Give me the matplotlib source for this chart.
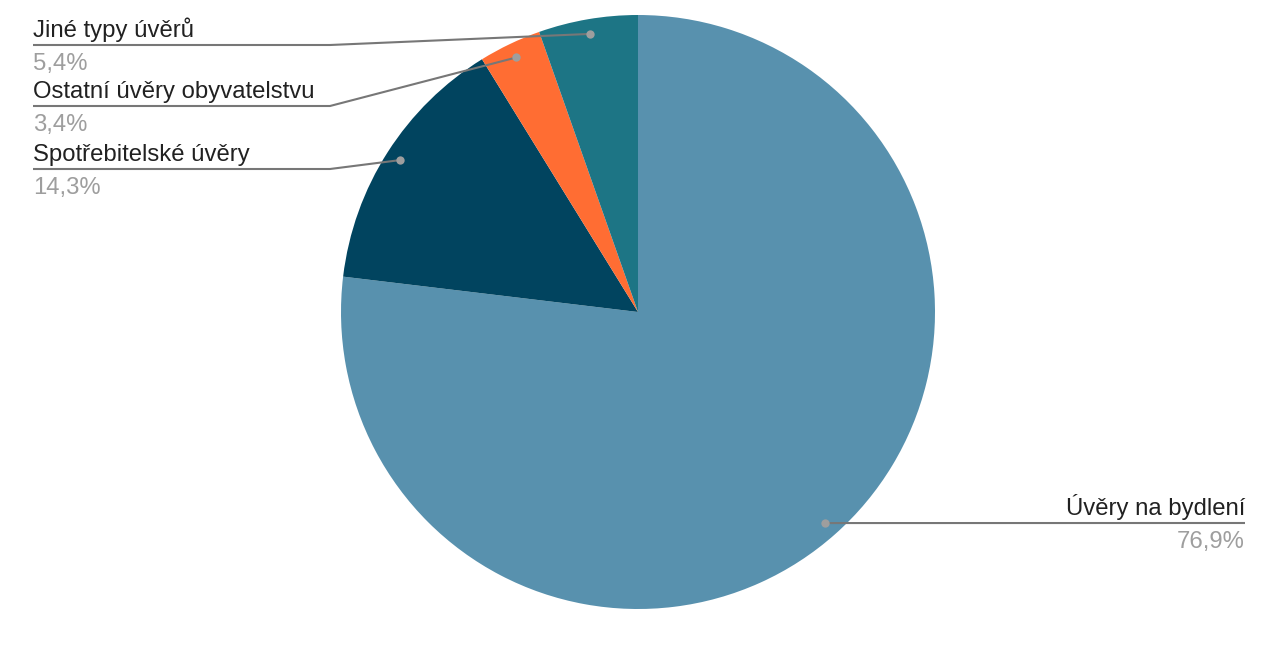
import numpy as np
import matplotlib.pyplot as plt

# data (clockwise from 12 o'clock)
labels = ["Úvěry na bydlení", "Spotřebitelské úvěry", "Ostatní úvěry obyvatelstvu", "Jiné typy úvěrů"]
values = [76.9, 14.3, 3.4, 5.4]
colors = ["#5891AE", "#01445F", "#FF6D33", "#1D7585"]

plt.rcParams["font.family"] = ["Liberation Sans", "DejaVu Sans"]

W, H = 1282, 647
fig = plt.figure(figsize=(W / 100, H / 100), dpi=100)
ax = fig.add_axes([0, 0, 1, 1])

cx, cy, r = 638, H - 312, 297
ax.pie(values, colors=colors, startangle=90, counterclock=False,
       center=(cx, cy), radius=r, frame=True,
       wedgeprops=dict(linewidth=0))
ax.set_xlim(0, W)
ax.set_ylim(0, H)
ax.set_aspect("equal")
ax.axis("off")

# label layout: (elbow x, line y in pixels, line end x, side)
layout = [
    (None, 523, 1245, "right"),
    (330, 169, 33, "left"),
    (330, 106, 33, "left"),
    (330, 45, 33, "left"),
]

total = sum(values)
start = 90.0
line_c = "#777777"
dot_c = "#9E9E9E"
fs = 17.2
for lab, v, (ex, ly, endx, side) in zip(labels, values, layout):
    mid = np.deg2rad(start - v / total * 360 / 2)
    start -= v / total * 360
    px, py = cx + 0.95 * r * np.cos(mid), cy + 0.95 * r * np.sin(mid)
    y = H - ly
    if ex is None:
        xs, ys = [px, endx], [py, y]
    else:
        xs, ys = [px, ex, endx], [py, y, y]
    ax.plot(xs, ys, color=line_c, lw=1.5, solid_capstyle="butt", zorder=3)
    ax.plot(px, py, "o", ms=6, color=dot_c, mec="none", zorder=4)
    ha = "left" if side == "left" else "right"
    ax.text(endx, y + 3, lab, ha=ha, va="bottom", fontsize=fs, color="#212121")
    pct = f"{v:.1f}".replace(".", ",") + "%"
    ax.text(endx, y - 8, pct, ha=ha, va="top", fontsize=fs, color="#9E9E9E")

fig.savefig("out.png", dpi=100)
